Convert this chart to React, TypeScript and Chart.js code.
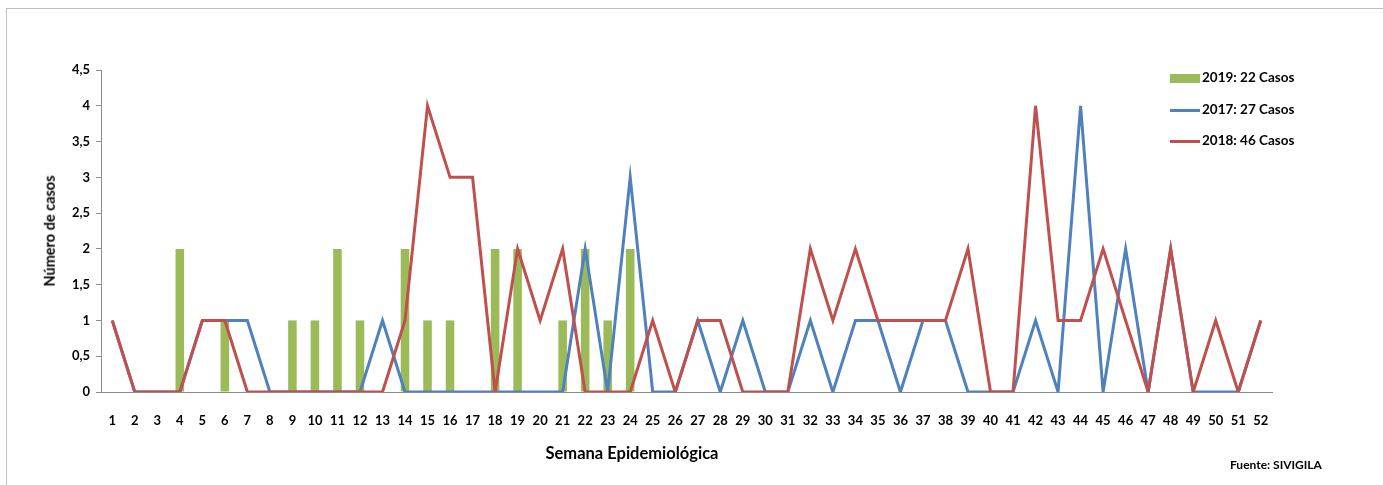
import React, { useEffect, useRef } from "react";
import { Chart, registerables } from "chart.js";

Chart.register(...registerables);

const weeks: string[] = Array.from({ length: 52 }, (_, i) => String(i + 1));

const cases2019: (number | null)[] = [
  null, null, null, 2, null, 1, null, null, 1, 1, 2, 1, null, 2, 1, 1, null, 2, 2, null,
  1, 2, 1, 2, null, null, null, null, null, null, null, null, null, null, null, null, null, null, null, null,
  null, null, null, null, null, null, null, null, null, null, null, null,
];

const cases2017: number[] = [
  1, 0, 0, 0, 1, 1, 1, 0, 0, 0, 0, 0, 1, 0, 0, 0, 0, 0, 0, 0,
  0, 2, 0, 3, 0, 0, 1, 0, 1, 0, 0, 1, 0, 1, 1, 0, 1, 1, 0, 0,
  0, 1, 0, 4, 0, 2, 0, 2, 0, 0, 0, 1,
];

const cases2018: number[] = [
  1, 0, 0, 0, 1, 1, 0, 0, 0, 0, 0, 0, 0, 1, 4, 3, 3, 0, 2, 1,
  2, 0, 0, 0, 1, 0, 1, 1, 0, 0, 0, 2, 1, 2, 1, 1, 1, 1, 2, 0,
  0, 4, 1, 1, 2, 1, 0, 2, 0, 1, 0, 1,
];

const legendLabels: string[] = ["2019: 22 Casos", "2017: 27 Casos", "2018: 46 Casos"];

const GREEN = "#9bbb59";
const BLUE = "#4f81bd";
const RED = "#c0504d";
const FONT = "Lato, 'Open Sans', sans-serif";

export default function App() {
  const ref = useRef<HTMLCanvasElement | null>(null);

  useEffect(() => {
    if (!ref.current) return;
    const chart = new Chart(ref.current, {
      type: "bar",
      data: {
        labels: weeks,
        datasets: [
          {
            type: "line",
            label: legendLabels[2],
            data: cases2018,
            borderColor: RED,
            backgroundColor: RED,
            borderWidth: 3,
            pointRadius: 0,
            tension: 0,
            order: 0,
          },
          {
            type: "line",
            label: legendLabels[1],
            data: cases2017,
            borderColor: BLUE,
            backgroundColor: BLUE,
            borderWidth: 3,
            pointRadius: 0,
            tension: 0,
            order: 1,
          },
          {
            type: "bar",
            label: legendLabels[0],
            data: cases2019,
            backgroundColor: GREEN,
            barPercentage: 0.38,
            categoryPercentage: 1,
            order: 2,
          },
        ],
      },
      options: {
        responsive: false,
        animation: false,
        devicePixelRatio: 1,
        layout: { padding: { left: 0, right: 111, top: 70, bottom: 0 } },
        plugins: {
          legend: { display: false },
          tooltip: { enabled: false },
        },
        scales: {
          x: {
            offset: true,
            grid: { display: false, drawTicks: false },
            border: { display: true, color: "#8c8c8c", width: 1 },
            ticks: {
              autoSkip: false,
              maxRotation: 0,
              padding: 21,
              color: "#000",
              font: { family: FONT, size: 13, weight: "bold" },
            },
            afterFit: (scale: any) => {
              scale.height = 93;
            },
          },
          y: {
            min: 0,
            max: 4.5,
            grid: { display: true, drawOnChartArea: false, drawTicks: true, tickLength: 5, color: "#8c8c8c" },
            border: { display: true, color: "#8c8c8c", width: 1 },
            ticks: {
              stepSize: 0.5,
              padding: 6,
              color: "#000",
              font: { family: FONT, size: 13, weight: "bold" },
              callback: (v: any) => String(v).replace(".", ","),
            },
            afterFit: (scale: any) => {
              scale.width = 101;
            },
          },
        },
      },
    });
    return () => chart.destroy();
  }, []);

  const textStyle: React.CSSProperties = {
    position: "absolute",
    fontFamily: FONT,
    fontWeight: "bold",
    color: "#000",
    whiteSpace: "nowrap",
    lineHeight: 1,
  };

  return (
    <div
      style={{
        position: "fixed",
        left: 0,
        top: 0,
        width: 1383,
        height: 485,
        overflow: "hidden",
        background: "#fff",
      }}
    >
      <div
        style={{
          position: "absolute",
          left: 6,
          top: 8,
          width: 1420,
          height: 520,
          border: "1px solid #bfbfbf",
        }}
      />
      <canvas ref={ref} width={1383} height={485} style={{ position: "absolute", left: 0, top: 0 }} />
      <div
        style={{
          ...textStyle,
          fontSize: 14.5,
          left: 50,
          top: 231,
          transform: "translate(-50%, -50%) rotate(-90deg)",
        }}
      >
        Número de casos
      </div>
      <div style={{ ...textStyle, fontSize: 16.5, left: 632, top: 453, transform: "translate(-50%, -50%)" }}>
        Semana Epidemiológica
      </div>
      <div style={{ ...textStyle, fontSize: 12, left: 1230, top: 459 }}>Fuente: SIVIGILA</div>
      <div style={{ position: "absolute", left: 1170, top: 74, width: 30, height: 9, background: GREEN }} />
      <div style={{ position: "absolute", left: 1170, top: 109, width: 30, height: 3, background: BLUE }} />
      <div style={{ position: "absolute", left: 1170, top: 140, width: 30, height: 3, background: RED }} />
      <div style={{ ...textStyle, fontSize: 13.5, left: 1202, top: 71 }}>{legendLabels[0]}</div>
      <div style={{ ...textStyle, fontSize: 13.5, left: 1202, top: 103 }}>{legendLabels[1]}</div>
      <div style={{ ...textStyle, fontSize: 13.5, left: 1202, top: 134 }}>{legendLabels[2]}</div>
    </div>
  );
}
